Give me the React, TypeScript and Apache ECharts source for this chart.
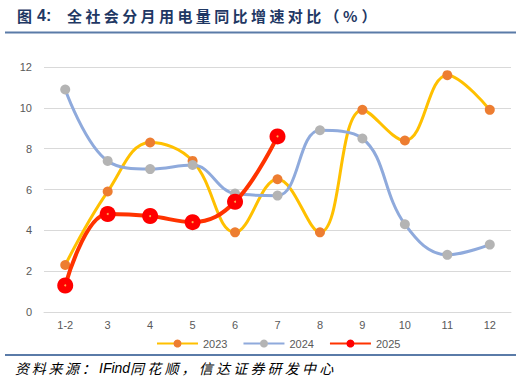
import React, { useEffect, useRef } from "react";
import * as echarts from "echarts";

const categories = ["1-2", "3", "4", "5", "6", "7", "8", "9", "10", "11", "12"];
const s2023 = [2.3, 5.9, 8.3, 7.4, 3.9, 6.5, 3.9, 9.9, 8.4, 11.6, 9.9];
const s2024 = [10.9, 7.4, 7.0, 7.2, 5.8, 5.7, 8.9, 8.5, 4.3, 2.8, 3.3];
const s2025 = [1.3, 4.8, 4.7, 4.4, 5.4, 8.6];
const yTicks = { min: 0, max: 12, interval: 2 };
const titleHead = ["图", "4:"];
const titleBody = "全社会分月用电量同比增速对比（%）";
const sourceA = "资料来源：";
const sourceB = "IFind";
const sourceC = "同花顺，信达证券研发中心";

function spaced(str: string, x0: number, pitch: number, y: number, font: string, fill: string) {
  return Array.from(str).map((ch, i) => ({
    type: "text",
    x: x0 + i * pitch,
    y,
    style: { text: ch, font, fill, textVerticalAlign: "middle" },
    silent: true,
  }));
}

export default function App() {
  const ref = useRef<HTMLDivElement>(null);
  useEffect(() => {
    const chart = echarts.init(ref.current!, null, { renderer: "svg" });
    const titleFont = "bold 15px 'Noto Sans CJK SC', sans-serif";
    const titleColor = "#1F3864";
    const srcFont = "italic 14px 'Noto Sans CJK SC', sans-serif";
    chart.setOption({
      animation: false,
      textStyle: { fontFamily: "Liberation Sans, Arial, sans-serif" },
      grid: { left: 44, right: 11, top: 67, bottom: 68 },
      graphic: [
        {
          type: "text",
          x: 17,
          y: 15,
          style: { text: titleHead[0], font: titleFont, fill: titleColor, textVerticalAlign: "middle" },
        },
        {
          type: "text",
          x: 37,
          y: 15,
          style: { text: titleHead[1], font: "bold 16px 'Liberation Sans', Arial, sans-serif", fill: titleColor, textVerticalAlign: "middle" },
        },
        ...spaced(titleBody, 67, 18.4, 15, titleFont, titleColor),
        {
          type: "line",
          shape: { x1: 5, y1: 32.5, x2: 516, y2: 32.5 },
          style: { stroke: "#5A7BA8", lineWidth: 2 },
        },
        {
          type: "line",
          shape: { x1: 5, y1: 355, x2: 516, y2: 355 },
          style: { stroke: "#5A7BA8", lineWidth: 2 },
        },
        ...spaced(sourceA, 15, 16.7, 368, srcFont, "#000"),
        {
          type: "text",
          x: 99,
          y: 368,
          style: { text: sourceB, font: "italic 14px 'Liberation Sans', Arial, sans-serif", fill: "#000", textVerticalAlign: "middle" },
        },
        ...spaced(sourceC, 130, 17.2, 368, srcFont, "#000"),
      ],
      legend: {
        top: 333,
        left: 151,
        itemWidth: 41,
        itemHeight: 10,
        itemGap: 15,
        textStyle: { color: "#595959", fontSize: 11 },
        data: ["2023", "2024", "2025"],
      },
      xAxis: {
        type: "category",
        data: categories,
        boundaryGap: true,
        axisLine: { lineStyle: { color: "#D9D9D9", width: 1 } },
        axisTick: { show: false },
        axisLabel: { color: "#595959", fontSize: 11, margin: 7 },
      },
      yAxis: {
        type: "value",
        min: yTicks.min,
        max: yTicks.max,
        interval: yTicks.interval,
        axisLine: { show: false },
        axisTick: { show: false },
        axisLabel: { color: "#595959", fontSize: 11, margin: 12 },
        splitLine: { lineStyle: { color: "#D9D9D9", width: 1 } },
      },
      series: [
        {
          name: "2023",
          type: "line",
          smooth: 0.4,
          data: s2023,
          symbol: "circle",
          symbolSize: 10,
          lineStyle: { color: "#FFC000", width: 3 },
          itemStyle: { color: "#ED7D31" },
          z: 2,
        },
        {
          name: "2024",
          type: "line",
          smooth: 0.4,
          data: s2024,
          symbol: "circle",
          symbolSize: 10,
          lineStyle: { color: "#8FAADC", width: 3 },
          itemStyle: { color: "#B4B4B4" },
          z: 3,
        },
        {
          name: "2025",
          type: "line",
          smooth: 0.4,
          data: s2025,
          symbol: "circle",
          symbolSize: 16,
          lineStyle: { color: "#FF3300", width: 4 },
          itemStyle: { color: "#FF0000" },
          z: 4,
        },
        {
          name: "2025dot",
          type: "scatter",
          data: s2025,
          symbol: "circle",
          symbolSize: 2,
          itemStyle: { color: "#FFD966" },
          silent: true,
          z: 5,
        },
      ],
    });
    return () => chart.dispose();
  }, []);
  return <div ref={ref} style={{ width: 522, height: 380, position: "absolute", left: 0, top: 0 }} />;
}
